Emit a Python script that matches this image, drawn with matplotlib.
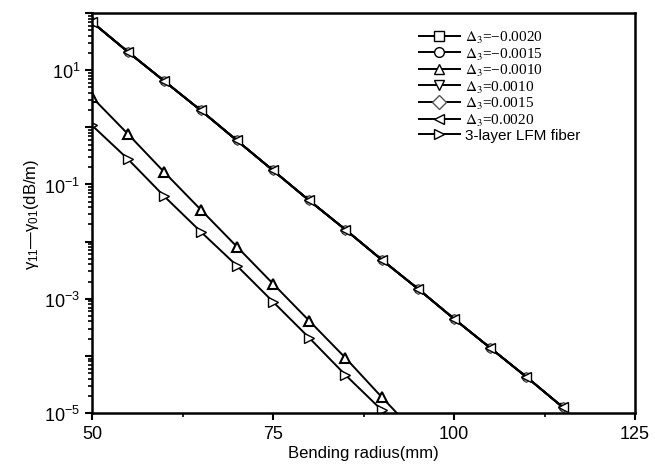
import numpy as np
import matplotlib.pyplot as plt
from matplotlib.ticker import FixedLocator, FuncFormatter, NullFormatter
from matplotlib.font_manager import FontProperties

plt.rcParams['font.family'] = 'Liberation Sans'
plt.rcParams['mathtext.fontset'] = 'custom'
plt.rcParams['mathtext.rm'] = 'Liberation Sans'
plt.rcParams['mathtext.it'] = 'Liberation Sans:italic'

# bending radius (mm)
r_upper = [50, 55, 60, 65, 70, 75, 80, 85, 90, 95, 100, 105, 110, 115]
r_lower = [50, 55, 60, 65, 70, 75, 80, 85, 90, 95]

# loss difference (dB/m), curves for delta3 != 0 nearly coincide
loss_upper = [69.5, 20.7, 6.41, 1.99, 0.59, 0.176, 0.0524, 0.0162,
              4.83e-3, 1.50e-3, 4.46e-4, 1.38e-4, 4.28e-5, 1.27e-5]
loss_m0010 = [3.36, 0.754, 0.163, 0.0364, 8.17e-3, 1.83e-3, 4.11e-4,
              9.23e-5, 1.91e-5, 4.1e-6]
loss_lfm = [1.08, 0.275, 0.0616, 0.0150, 3.79e-3, 8.85e-4, 2.07e-4,
            4.64e-5, 1.13e-5, 2.6e-6]

labels = [r'$\Delta_3$=−0.0020', r'$\Delta_3$=−0.0015', r'$\Delta_3$=−0.0010',
          r'$\Delta_3$=0.0010', r'$\Delta_3$=0.0015', r'$\Delta_3$=0.0020',
          '3-layer LFM fiber']

fig = plt.figure(figsize=(6.55, 4.77), dpi=100)
ax = fig.add_axes([0.1405, 0.132, 0.829, 0.8386])

mk = dict(color='black', lw=1.4, ms=7, mfc='white', mec='black', mew=1.0)
ax.semilogy(r_upper, loss_upper, marker='s', label=labels[0],
            **{**mk, 'ms': 5})
ax.semilogy(r_upper, loss_upper, marker='o', label=labels[1],
            **{**mk, 'ms': 5.5})
ax.semilogy(r_lower, loss_m0010, marker='^', label=labels[2],
            **{**mk, 'mew': 1.5})
ax.semilogy(r_upper, loss_upper, marker='v', label=labels[3],
            **{**mk, 'ms': 6})
ax.semilogy(r_upper, loss_upper, marker='D', label=labels[4],
            **{**mk, 'ms': 5, 'mec': '#555555'})
ax.semilogy(r_upper, loss_upper, marker='<', label=labels[5], **mk)
ax.semilogy(r_lower, loss_lfm, marker='>', label=labels[6], **mk)

ax.set_xlim(50, 125)
ax.set_ylim(1e-5, 1e2)
ax.xaxis.set_major_locator(FixedLocator([50, 75, 100, 125]))
ax.xaxis.set_minor_locator(FixedLocator([62.5, 87.5, 112.5]))

decades = [10.0 ** k for k in range(-5, 3)]
ax.yaxis.set_major_locator(FixedLocator(decades))
minors = [m * 10.0 ** k for k in range(-5, 2) for m in range(2, 10)]
ax.yaxis.set_minor_locator(FixedLocator(minors))
ax.yaxis.set_minor_formatter(NullFormatter())


def fmt(v, pos):
    e = int(round(np.log10(v)))
    if e % 2 != 0 and e < 2:
        return r'$\mathdefault{10^{%d}}$' % e
    return ''


ax.yaxis.set_major_formatter(FuncFormatter(fmt))

for s in ax.spines.values():
    s.set_linewidth(1.8)
ax.tick_params(which='major', direction='out', length=5, width=1.5,
               labelsize=13, top=False, right=False)
ax.tick_params(which='minor', direction='out', length=3, width=1.2,
               top=False, right=False)

ax.set_xlabel('Bending radius(mm)', fontsize=12, labelpad=2)
ax.set_ylabel(r'$\mathrm{\gamma}_{11}$—$\mathrm{\gamma}_{01}$(dB/m)',
              fontsize=12, labelpad=2)

fp = FontProperties(family='Liberation Serif', size=11, math_fontfamily='stix')
leg = ax.legend(loc='upper left', bbox_to_anchor=(0.59, 0.975), frameon=False,
                prop=fp, handlelength=2.7, handletextpad=0.35,
                labelspacing=0.03, borderaxespad=0)
for h in leg.legend_handles:
    h.set_markersize(7)
leg.legend_handles[2].set_markeredgewidth(1.0)
leg.get_texts()[6].set_fontfamily('Liberation Sans')

fig.savefig('out.png', dpi=100)
